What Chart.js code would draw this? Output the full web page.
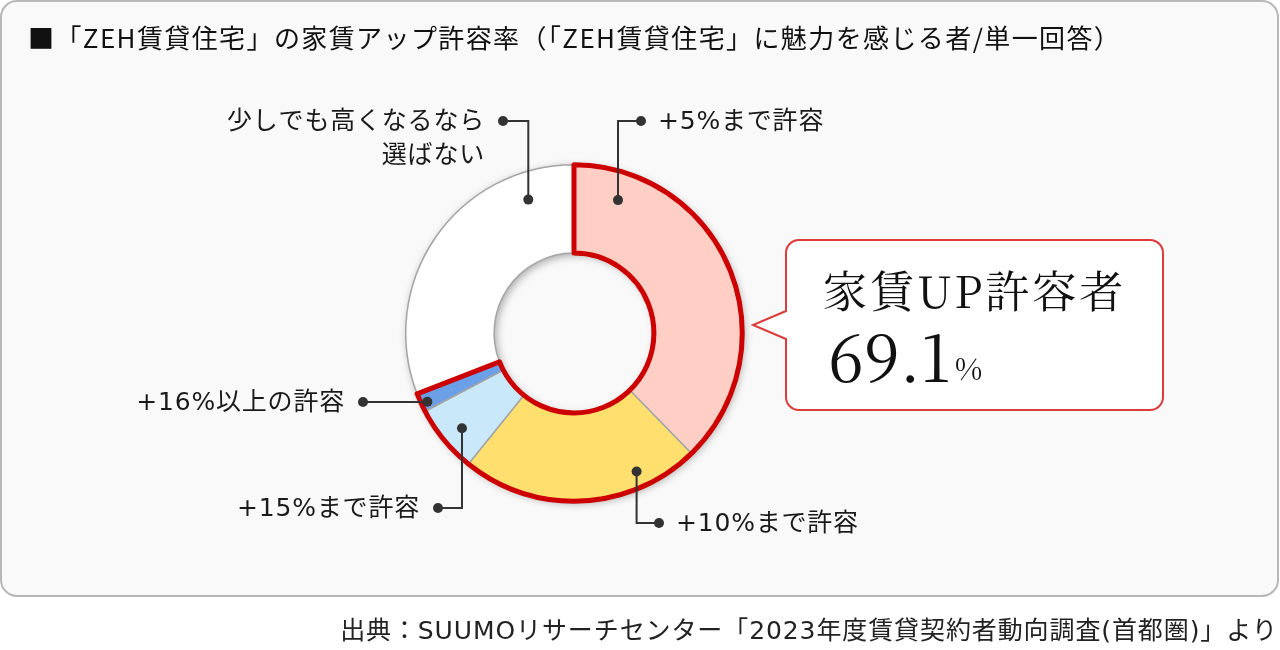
<!DOCTYPE html>
<html lang="ja">
<head>
<meta charset="utf-8">
<title>ZEH賃貸住宅の家賃アップ許容率</title>
<script src="https://cdn.jsdelivr.net/npm/chart.js@4.4.1/dist/chart.umd.min.js"></script>
<style>
  html, body { margin: 0; padding: 0; background: #fff; }
  #wrap { position: relative; width: 1280px; height: 650px; }
</style>
</head>
<body>
<div id="wrap"><canvas id="chart" width="1280" height="650"></canvas></div>
<script>
// data
const categories = ['+5%まで許容', '+10%まで許容', '+15%まで許容', '+16%以上の許容', '少しでも高くなるなら選ばない'];
const values = [37.7, 23.1, 6.5, 1.8, 30.9];
const labelLines = [['+5%まで許容'], ['+10%まで許容'], ['+15%まで許容'], ['+16%以上の許容'], ['少しでも高くなるなら', '選ばない']];
const acceptedCount = 4; // first four slices = 家賃UP許容者
const titleText = '■「ZEH賃貸住宅」の家賃アップ許容率（「ZEH賃貸住宅」に魅力を感じる者/単一回答）';
const sourceText = '出典：SUUMOリサーチセンター「2023年度賃貸契約者動向調査(首都圏)」より';
const calloutTitle = '家賃UP許容者';

const sliceColors = ['#ffcfc6', '#ffe06e', '#c9e9fb', '#6b9fe8', '#ffffff'];

// leader layout: dot at fraction f of the slice, radius r from centre; label anchor offset from centre
const leaders = [
  { f: 0.135, r: 140, dx: 67, dy: -212, align: 'left' },
  { f: 0.24, r: 152, dx: 85, dy: 190, align: 'left' },
  { f: 0.46, r: 147, dx: -136, dy: 175, align: 'right' },
  { f: 0.4, r: 162, dx: -211, dy: 69, align: 'right' },
  { f: 0.83, r: 141, dx: -71, dy: -212, align: 'right' }
];

const JP = '"Noto Sans CJK JP", "Noto Sans", sans-serif';
const LBL = '"DejaVu Sans", "Noto Sans CJK JP", sans-serif';
const SERIF = '"Noto Serif CJK JP", "Liberation Serif", "DejaVu Serif", serif';

function dot(ctx, x, y) {
  ctx.beginPath();
  ctx.arc(x, y, 5, 0, Math.PI * 2);
  ctx.fill();
}

const decor = {
  id: 'decor',
  beforeDraw(chart) {
    const ctx = chart.ctx;
    ctx.save();
    ctx.beginPath();
    ctx.roundRect(1, 1, 1277, 595, 16);
    ctx.fillStyle = '#f9f9f9';
    ctx.fill();
    ctx.lineWidth = 2;
    ctx.strokeStyle = '#b8b8b8';
    ctx.stroke();

    ctx.fillStyle = '#111';
    ctx.font = '26px ' + JP;
    ctx.textBaseline = 'middle';
    ctx.letterSpacing = '1.4px';
    ctx.fillText(titleText, 28, 38);
    ctx.textAlign = 'right';
    ctx.fillStyle = '#222';
    ctx.font = '25px ' + LBL;
    ctx.letterSpacing = '0.9px';
    ctx.fillText(sourceText, 1278, 632);
    ctx.restore();
  },
  beforeDatasetsDraw(chart) {
    const a = chart.getDatasetMeta(0).data[0];
    const ctx = chart.ctx;
    ctx.save();
    ctx.beginPath();
    ctx.arc(a.x, a.y, a.outerRadius, 0, Math.PI * 2);
    ctx.arc(a.x, a.y, a.innerRadius, 0, Math.PI * 2, true);
    ctx.shadowColor = 'rgba(0,0,0,0.35)';
    ctx.shadowBlur = 8;
    ctx.shadowOffsetX = 2;
    ctx.shadowOffsetY = 2;
    ctx.fillStyle = '#fff';
    ctx.fill();
    ctx.restore();
  },
  afterDatasetsDraw(chart) {
    const ctx = chart.ctx;
    const arcs = chart.getDatasetMeta(0).data;
    const first = arcs[0], last = arcs[acceptedCount - 1];
    const cx = first.x, cy = first.y;

    // red outline round the accepting group
    ctx.save();
    ctx.beginPath();
    ctx.arc(cx, cy, first.outerRadius, first.startAngle, last.endAngle);
    ctx.arc(cx, cy, first.innerRadius, last.endAngle, first.startAngle, true);
    ctx.closePath();
    ctx.lineWidth = 5;
    ctx.lineJoin = 'round';
    ctx.strokeStyle = '#cc0000';
    ctx.stroke();
    ctx.restore();

    // leaders and labels
    ctx.save();
    ctx.strokeStyle = '#333';
    ctx.lineWidth = 2;
    ctx.font = '25px ' + LBL;
    ctx.letterSpacing = '0.8px';
    ctx.textBaseline = 'middle';
    leaders.forEach((l, i) => {
      const arc = arcs[i];
      const ang = arc.startAngle + l.f * (arc.endAngle - arc.startAngle);
      const px = cx + Math.cos(ang) * l.r;
      const py = cy + Math.sin(ang) * l.r;
      const ex = cx + l.dx, ey = cy + l.dy;
      ctx.beginPath();
      ctx.moveTo(px, py);
      ctx.lineTo(px, ey);
      ctx.lineTo(ex, ey);
      ctx.stroke();
      ctx.fillStyle = '#333';
      dot(ctx, px, py);
      dot(ctx, ex, ey);
      ctx.fillStyle = '#1a1a1a';
      ctx.textAlign = l.align;
      const tx = l.align === 'left' ? ex + 17 : ex - 18;
      labelLines[i].forEach((t, k) => ctx.fillText(t, tx, ey + 1 + k * 34));
    });
    ctx.restore();

    // callout
    const total = values.slice(0, acceptedCount).reduce((s, v) => s + v, 0).toFixed(1);
    ctx.save();
    ctx.beginPath();
    ctx.moveTo(799, 240);
    ctx.lineTo(1150, 240);
    ctx.arcTo(1163, 240, 1163, 253, 13);
    ctx.lineTo(1163, 397);
    ctx.arcTo(1163, 410, 1150, 410, 13);
    ctx.lineTo(799, 410);
    ctx.arcTo(786, 410, 786, 397, 13);
    ctx.lineTo(786, 339);
    ctx.lineTo(753, 325);
    ctx.lineTo(786, 311);
    ctx.lineTo(786, 253);
    ctx.arcTo(786, 240, 799, 240, 13);
    ctx.closePath();
    ctx.fillStyle = '#fff';
    ctx.fill();
    ctx.lineWidth = 2;
    ctx.strokeStyle = '#dd3a3a';
    ctx.stroke();

    ctx.fillStyle = '#111';
    ctx.textBaseline = 'alphabetic';
    ctx.font = '44px ' + SERIF;
    ctx.letterSpacing = '3px';
    ctx.fillText(calloutTitle, 823, 308);
    ctx.letterSpacing = '0px';
    ctx.font = '64px ' + SERIF;
    ctx.fillText(total, 828, 382);
    const w = ctx.measureText(total).width;
    ctx.font = '30px ' + SERIF;
    ctx.fillText('%', 828 + w + 4, 380);
    ctx.restore();
  }
};

new Chart(document.getElementById('chart'), {
  type: 'doughnut',
  data: {
    labels: categories,
    datasets: [{
      data: values,
      backgroundColor: sliceColors,
      borderColor: '#a5a5a5',
      borderWidth: 1.5,
      hoverOffset: 0,
      offset: 0
    }]
  },
  options: {
    responsive: false,
    animation: false,
    devicePixelRatio: 1,
    cutout: '47.5%',
    layout: { padding: { left: 405, right: 537, top: 164, bottom: 148 } },
    plugins: {
      legend: { display: false },
      tooltip: { enabled: false }
    },
    events: []
  },
  plugins: [decor]
});
</script>
</body>
</html>
